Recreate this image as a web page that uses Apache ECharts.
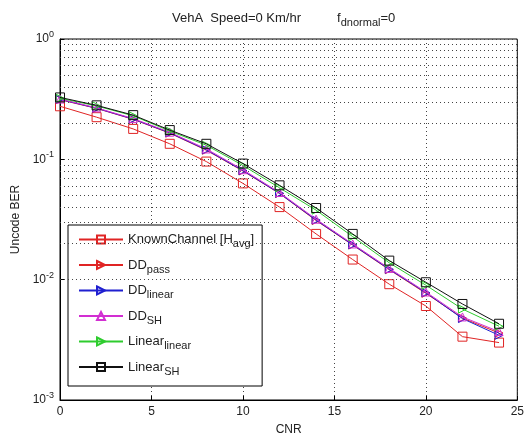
<!DOCTYPE html>
<html><head><meta charset="utf-8">
<script src="https://cdn.jsdelivr.net/npm/echarts@6/dist/echarts.min.js"></script>
<style>html,body{margin:0;padding:0;background:#fff}#c{width:527px;height:441px}</style>
</head><body><div id="c"></div>
<script>
var cnr = [0, 2, 4, 6, 8, 10, 12, 14, 16, 18, 20, 22, 24];
var knownChannel = [0.276, 0.224, 0.179, 0.1346, 0.0958, 0.0631, 0.0401, 0.0240, 0.0147, 0.00917, 0.00604, 0.00336, 0.00300];
var ddPass = [0.313, 0.265, 0.215, 0.165, 0.119, 0.080, 0.052, 0.031, 0.0194, 0.0121, 0.0077, 0.0048, 0.0036];
var ddLinear = [0.315, 0.266, 0.216, 0.166, 0.120, 0.0806, 0.0522, 0.0313, 0.0195, 0.0122, 0.0078, 0.00475, 0.00345];
var ddSH = [0.317, 0.268, 0.218, 0.168, 0.122, 0.082, 0.053, 0.0318, 0.0198, 0.0124, 0.0079, 0.0049, 0.0037];
var linearLinear = [0.322, 0.278, 0.230, 0.172, 0.131, 0.089, 0.058, 0.0378, 0.0228, 0.0138, 0.0090, 0.0057, 0.0041];
var linearSH = [0.327, 0.281, 0.233, 0.175, 0.1346, 0.0922, 0.0608, 0.0394, 0.0240, 0.0144, 0.00952, 0.00628, 0.0043];
var xTicks = [0, 5, 10, 15, 20, 25];
var yDecades = [0.001, 0.01, 0.1, 1];
var minorGrid = [0.002,0.003,0.004,0.005,0.006,0.007,0.008,0.009,0.02,0.03,0.04,0.05,0.06,0.07,0.08,0.09,0.2,0.3,0.4,0.5,0.6,0.7,0.8,0.9];

var FONT = 'Liberation Sans, Arial, sans-serif';
var TXT = '#222';
var rightTri = 'path://M0,0 L10,5 L0,10 Z';

function pairs(arr){ return cnr.map(function(x,i){ return [x, arr[i]]; }); }

var seriesDefs = [
  {name:'KnownChannel [Havg]', data: knownChannel, color:'#e02424', symbol:'rect', size:9},
  {name:'DDpass', data: ddPass, color:'#e02424', symbol:rightTri, size:8},
  {name:'DDlinear', data: ddLinear, color:'#1f1fd0', symbol:rightTri, size:8},
  {name:'DDSH', data: ddSH, color:'#d22ed2', symbol:'triangle', size:8},
  {name:'Linearlinear', data: linearLinear, color:'#2ecc2e', symbol:rightTri, size:8},
  {name:'LinearSH', data: linearSH, color:'#111111', symbol:'rect', size:9}
];
var labelMap = {
  'KnownChannel [Havg]': 'KnownChannel [H{sub|avg}]',
  'DDpass': 'DD{sub|pass}',
  'DDlinear': 'DD{sub|linear}',
  'DDSH': 'DD{sub|SH}',
  'Linearlinear': 'Linear{sub|linear}',
  'LinearSH': 'Linear{sub|SH}'
};

var series = seriesDefs.map(function(s, i){
  return {
    name: s.name, type:'line', data: pairs(s.data),
    symbol: s.symbol, symbolSize: s.size, showAllSymbol: true,
    lineStyle: {color: s.color, width: 1},
    itemStyle: {color: 'rgba(255,255,255,0)', borderColor: s.color, borderWidth: 1},
    emphasis: {disabled: true}, animation: false, z: 3 + i
  };
});
series.push({
  type:'line', data: [], silent:true, animation:false,
  markLine: {
    silent:true, symbol:['none','none'], label:{show:false},
    lineStyle:{color:'#444', type:[1,3], width:1},
    data: minorGrid.map(function(v){ return {yAxis: v}; })
  }
});

var chart = echarts.init(document.getElementById('c'), null, {renderer:'canvas'});
chart.setOption({
  animation: false,
  backgroundColor: '#fff',
  title: {
    text: 'VehA  Speed=0 Km/hr          f{sub|dnormal}=0',
    left: 167, top: 4,
    textStyle: {fontFamily: FONT, fontSize: 13, fontWeight: 'normal', color: TXT,
      rich: {sub: {fontFamily: FONT, fontSize: 11, color: TXT, padding:[8,0,0,0]}}}
  },
  grid: {left: 60, right: 7, top: 39, bottom: 37, show: true, borderColor: '#000', borderWidth: 1, backgroundColor:'#fff'},
  legend: {
    orient: 'vertical', left: 68, top: 225,
    itemWidth: 44, itemHeight: 10, itemGap: 9,
    padding: [8, 8, 9, 10],
    borderColor: '#000', borderWidth: 1, backgroundColor: '#fff',
    data: seriesDefs.map(function(s){ return s.name; }),
    formatter: function(n){ return labelMap[n]; },
    textStyle: {fontFamily: FONT, fontSize: 13, color: TXT,
      rich: {sub: {fontFamily: FONT, fontSize: 11, color: TXT, padding:[9,0,0,0]}}},
    selectedMode: false
  },
  xAxis: {
    type: 'value', min: 0, max: 25, interval: 5,
    name: 'CNR', nameLocation: 'middle', nameGap: 24,
    nameTextStyle: {fontFamily: FONT, fontSize: 12, color: TXT},
    axisLine: {show: true, onZero:false, lineStyle: {color: '#000'}},
    axisTick: {show: true, inside: true, length: 4, lineStyle:{color:'#000'}},
    axisLabel: {fontFamily: FONT, fontSize: 12, color: TXT, margin: 6},
    splitLine: {show: true, lineStyle: {color: '#444', type: [1, 3]}}
  },
  yAxis: {
    type: 'log', logBase: 10, min: 0.001, max: 1,
    name: 'Uncode BER', nameLocation: 'middle', nameGap: 34,
    nameTextStyle: {fontFamily: FONT, fontSize: 12, color: TXT},
    axisLine: {show: true, lineStyle: {color: '#000'}},
    axisTick: {show: true, inside: true, length: 4, lineStyle:{color:'#000'}},
    axisLabel: {
      fontFamily: FONT, fontSize: 12, color: TXT, margin: 6,
      formatter: function(v){ return '10{sup|' + Math.round(Math.log10(v)) + '}'; },
      rich: {sup: {fontFamily: FONT, fontSize: 9, color: TXT, padding:[0,0,9,0]}}
    },
    splitLine: {show: true, lineStyle: {color: '#444', type: [1, 3]}}
  },
  series: series
});
</script></body></html>
